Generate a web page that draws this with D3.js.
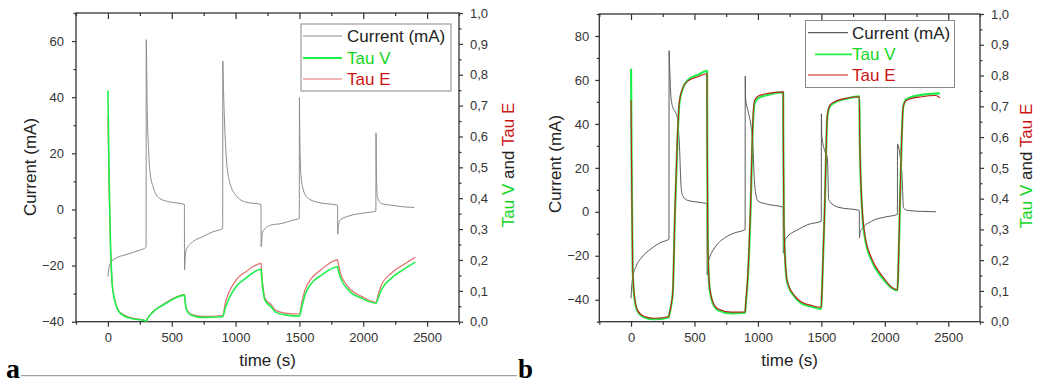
<!DOCTYPE html>
<html>
<head>
<meta charset="utf-8">
<script src="https://cdn.jsdelivr.net/npm/d3@7"></script>
<style>
  body { margin: 0; background: #fff; }
  svg text { font-family: "Liberation Sans", Arial, sans-serif; }
</style>
</head>
<body>
<div id="chart"></div>
<script>
// ---- data: [time (s), value] ----
const xTicks = [0, 500, 1000, 1500, 2000, 2500];
const tauTicks = [0, 0.1, 0.2, 0.3, 0.4, 0.5, 0.6, 0.7, 0.8, 0.9, 1.0];
const yTicksA = [-40, -20, 0, 20, 40, 60];
const yTicksB = [-40, -20, 0, 20, 40, 60, 80];
const legendLabels = ["Current (mA)", "Tau V", "Tau E"];

const currentA = [[0,-24],[8,-21],[20,-19.2],[47,-17.8],[150,-16],[250,-14.5],[299,-13.5],[300,60.5],[308,35],[318,22],
  [328,14],[354,8],[406,3.9],[484,2.7],[599,1.8],[600,-21.6],[606,-17],[612,-14.5],[651,-12.1],[742,-9.7],[820,-8],
  [899,-6.8],[900,52.9],[903,47],[912,33],[924,21],[950,10.4],[1003,5],[1081,2.6],[1199,1.8],[1200,-13.3],[1211,-8],
  [1276,-5.6],[1362,-5],[1450,-3.8],[1499,-3.2],[1500,39.9],[1503,25.8],[1513,11.6],[1531,6.9],[1570,3.9],[1648,2.5],
  [1799,1.5],[1800,-8.8],[1805,-6],[1818,-3.8],[1883,-2.4],[2000,-1.3],[2099,-0.6],[2100,27.3],[2103,14],[2111,4.5],
  [2142,2.1],[2220,1.5],[2300,1.0],[2400,0.7]];

const tauVA = [[0,0.749],[10,0.45],[20,0.254],[33,0.125],[45,0.085],[59,0.06],[98,0.027],[176,0.011],[293,0.003],[300,0.002],
  [310,0.01],[354,0.032],[432,0.054],[510,0.073],[599,0.086],[600,0.084],[612,0.043],[651,0.022],[742,0.014],[899,0.016],
  [920,0.045],[950,0.076],[1003,0.113],[1081,0.141],[1199,0.17],[1200,0.168],[1205,0.14],[1215,0.1],[1232,0.068],[1279,0.048],
  [1310,0.032],[1388,0.022],[1499,0.018],[1520,0.05],[1544,0.087],[1596,0.125],[1674,0.151],[1799,0.178],[1800,0.176],
  [1818,0.146],[1883,0.103],[1987,0.076],[2099,0.06],[2120,0.08],[2142,0.103],[2220,0.141],[2311,0.168],[2408,0.193]];

const tauEA = [[0,0.665],[10,0.42],[20,0.25],[33,0.128],[45,0.088],[59,0.062],[98,0.029],[176,0.013],[293,0.004],[300,0.003],
  [310,0.011],[354,0.033],[432,0.056],[510,0.075],[599,0.088],[600,0.086],[612,0.045],[651,0.024],[742,0.017],[899,0.02],
  [920,0.062],[950,0.097],[1003,0.135],[1081,0.162],[1199,0.189],[1200,0.187],[1205,0.155],[1215,0.112],[1232,0.074],[1279,0.055],
  [1310,0.038],[1388,0.028],[1499,0.025],[1520,0.065],[1544,0.103],[1596,0.141],[1674,0.17],[1799,0.2],[1800,0.198],
  [1818,0.162],[1883,0.112],[1987,0.082],[2099,0.063],[2120,0.092],[2142,0.119],[2220,0.157],[2311,0.184],[2408,0.209]];

const currentB = [[0,-39.4],[5,-34],[13,-30.2],[39,-24.9],[79,-21.1],[158,-16.8],[237,-13.9],[299,-12.4],[300,73.3],[303,68.2],
  [315,52],[329,47.6],[355,44.6],[368,41.5],[381,30.8],[395,11],[408,7.2],[447,5.2],[526,4.4],[599,3.7],[600,-28.7],
  [605,-24],[618,-21.1],[658,-16.5],[737,-11.9],[816,-9.6],[899,-8.1],[900,61.7],[903,51.5],[921,46.1],[947,38.5],
  [960,30.8],[974,12.5],[1000,4.9],[1079,3.4],[1199,2.1],[1200,-18.8],[1210,-14],[1224,-11.9],[1237,-11],[1316,-8.1],
  [1394,-5.8],[1499,-4.3],[1500,44.6],[1503,35],[1526,27.8],[1547,24.7],[1558,5.6],[1568,4.6],[1632,2.1],[1799,0.6],
  [1800,-11.9],[1805,-9.5],[1816,-8.1],[1895,-4.3],[2000,-2.4],[2099,-1.2],[2100,30.8],[2118,26.3],[2137,14.8],
  [2147,1.8],[2184,0.6],[2290,0.2],[2403,0]];

const tauVB = [[0,0.822],[5,0.5],[13,0.168],[26,0.081],[53,0.033],[105,0.014],[184,0.008],[295,0.014],[300,0.02],[315,0.05],
  [329,0.092],[347,0.363],[363,0.558],[381,0.71],[408,0.758],[447,0.785],[526,0.802],[599,0.815],[600,0.6],[605,0.255],
  [618,0.114],[645,0.06],[684,0.038],[789,0.027],[899,0.029],[905,0.06],[921,0.146],[942,0.363],[960,0.634],[974,0.71],
  [1000,0.726],[1079,0.737],[1199,0.745],[1200,0.6],[1205,0.309],[1224,0.146],[1237,0.12],[1290,0.081],[1342,0.06],
  [1421,0.049],[1499,0.042],[1505,0.1],[1526,0.363],[1547,0.666],[1566,0.699],[1605,0.712],[1710,0.726],[1799,0.732],
  [1803,0.58],[1821,0.363],[1842,0.276],[1895,0.2],[1974,0.146],[2099,0.102],[2105,0.15],[2118,0.363],[2132,0.58],
  [2145,0.699],[2171,0.723],[2290,0.737],[2434,0.742]];

const tauEB = [[0,0.72],[5,0.48],[13,0.17],[26,0.085],[53,0.036],[105,0.017],[184,0.011],[295,0.016],[300,0.022],[315,0.052],
  [329,0.095],[347,0.37],[363,0.57],[381,0.715],[408,0.76],[447,0.782],[526,0.796],[599,0.806],[600,0.6],[605,0.26],
  [618,0.118],[645,0.064],[684,0.042],[789,0.031],[899,0.032],[905,0.065],[921,0.155],[942,0.38],[960,0.65],[974,0.72],
  [1000,0.733],[1079,0.742],[1199,0.747],[1200,0.6],[1205,0.31],[1224,0.15],[1237,0.123],[1290,0.084],[1342,0.064],
  [1421,0.053],[1499,0.047],[1505,0.105],[1526,0.37],[1547,0.67],[1566,0.703],[1605,0.715],[1710,0.727],[1799,0.731],
  [1803,0.58],[1821,0.37],[1842,0.285],[1895,0.207],[1974,0.152],[2099,0.104],[2105,0.155],[2118,0.37],[2132,0.585],
  [2145,0.7],[2171,0.72],[2290,0.731],[2400,0.735],[2434,0.728]];

// ---- colours ----
const green = "#1ef04a", greenText = "#14d61e", redText = "#cc1414";

const svg = d3.select("#chart").append("svg")
  .attr("width", 1038).attr("height", 383)
  .style("background", "#fff");

function drawPanel(p) {
  const x = d3.scaleLinear().domain([-250, 2750]).range([p.left, p.right]);
  const y = d3.scaleLinear().domain(p.yDomain).range([p.bottom, p.top]);
  const yt = d3.scaleLinear().domain([0, 1]).range([p.bottom, p.top]);
  const g = svg.append("g");

  const minorX = d3.range(-250, 2751, 250).filter(d => d % 500 !== 0);
  const minorY = d3.range(p.yDomain[0], p.yDomain[1] + 1, 10).filter(d => d % 20 !== 0);
  const minorT = d3.range(0.05, 1, 0.1);

  function styleAxis(sel) {
    sel.select(".domain").remove();
    sel.selectAll("line").attr("stroke", "#333").attr("stroke-width", 1.2);
    sel.selectAll("text").attr("fill", "#333").style("font-size", "13px");
  }

  // bottom
  g.append("g").attr("transform", `translate(0,${p.bottom})`)
    .call(d3.axisBottom(x).tickValues(xTicks).tickSize(5).tickPadding(6).tickFormat(d3.format("d")))
    .call(styleAxis);
  g.append("g").attr("transform", `translate(0,${p.bottom})`)
    .call(d3.axisBottom(x).tickValues(minorX).tickSize(3).tickFormat("")).call(styleAxis);
  // top (ticks point inward)
  g.append("g").attr("transform", `translate(0,${p.top})`)
    .call(d3.axisBottom(x).tickValues(xTicks).tickSize(6).tickFormat("")).call(styleAxis);
  g.append("g").attr("transform", `translate(0,${p.top})`)
    .call(d3.axisBottom(x).tickValues(minorX).tickSize(3).tickFormat("")).call(styleAxis);
  // left
  g.append("g").attr("transform", `translate(${p.left},0)`)
    .call(d3.axisLeft(y).tickValues(p.yTicks).tickSize(4).tickPadding(p.leftPad)).call(styleAxis);
  g.append("g").attr("transform", `translate(${p.left},0)`)
    .call(d3.axisLeft(y).tickValues(minorY).tickSize(2.5).tickFormat("")).call(styleAxis);
  // right
  g.append("g").attr("transform", `translate(${p.right},0)`)
    .call(d3.axisRight(yt).tickValues(tauTicks).tickSize(4).tickPadding(7)
      .tickFormat(d => d3.format(".1f")(d).replace(".", ","))).call(styleAxis);
  g.append("g").attr("transform", `translate(${p.right},0)`)
    .call(d3.axisRight(yt).tickValues(minorT).tickSize(2.5).tickFormat("")).call(styleAxis);

  // frame
  g.append("rect").attr("x", p.left).attr("y", p.top)
    .attr("width", p.right - p.left).attr("height", p.bottom - p.top)
    .attr("fill", "none").attr("stroke", "#333").attr("stroke-width", 1.3);

  const lineI = d3.line().x(d => x(d[0])).y(d => y(d[1])).curve(d3.curveMonotoneX);
  const lineT = d3.line().x(d => x(d[0])).y(d => yt(d[1])).curve(d3.curveMonotoneX);

  g.append("path").datum(p.current).attr("d", lineI)
    .attr("fill", "none").attr("stroke", p.curColor).attr("stroke-width", 1);
  p.order.forEach(k => {
    const s = k === "V"
      ? { data: p.tauV, color: green, w: p.vWidth }
      : { data: p.tauE, color: p.eColor, w: p.eWidth };
    g.append("path").datum(s.data).attr("d", lineT)
      .attr("fill", "none").attr("stroke", s.color).attr("stroke-width", s.w)
      .attr("stroke-linejoin", "round");
  });

  // legend
  const L = p.legend;
  g.append("rect").attr("x", L.x).attr("y", L.y).attr("width", L.w).attr("height", L.h)
    .attr("fill", "#fff").attr("stroke", "#888").attr("stroke-width", 1);
  const legColors = [p.curColor, green, p.eColor];
  const legText = ["#222", greenText, redText];
  legendLabels.forEach((lab, i) => {
    const ry = L.rows[i];
    g.append("line").attr("x1", L.lx[i][0]).attr("x2", L.lx[i][1]).attr("y1", ry).attr("y2", ry)
      .attr("stroke", legColors[i]).attr("stroke-width", i === 1 ? 1.8 : 1.2);
    g.append("text").attr("x", L.tx).attr("y", ry + 6).text(lab)
      .attr("fill", legText[i]).style("font-size", "17px");
  });

  // axis titles
  g.append("text").attr("x", (p.left + p.right) / 2).attr("y", 366)
    .attr("text-anchor", "middle").attr("fill", "#222").style("font-size", "17px").text("time (s)");
  g.append("text").attr("transform", `translate(${p.ylx},${p.yly}) rotate(-90)`)
    .attr("text-anchor", "middle").attr("fill", "#222").style("font-size", "17px").text("Current (mA)");
  const rt = g.append("text").attr("transform", `translate(${p.rlx},${p.rly}) rotate(-90)`)
    .attr("text-anchor", "middle").style("font-size", "17px");
  rt.append("tspan").attr("fill", greenText).text("Tau V");
  rt.append("tspan").attr("fill", "#222").text(" and ");
  rt.append("tspan").attr("fill", redText).text("Tau E");
}

drawPanel({
  left: 76, right: 459, top: 13, bottom: 321.7, yDomain: [-40, 70], yTicks: yTicksA, leftPad: 8,
  current: currentA, tauV: tauVA, tauE: tauEA,
  curColor: "#8c8c8c", eColor: "#e06a6a", vWidth: 1.6, eWidth: 1.2, order: ["E", "V"],
  legend: { x: 301, y: 24, w: 150, h: 67, rows: [36, 58, 79],
            lx: [[303, 342], [303, 342], [303, 342]], tx: 347 },
  ylx: 36, yly: 167, rlx: 514, rly: 165
});

drawPanel({
  left: 599.3, right: 980, top: 14, bottom: 321.7, yDomain: [-50, 90], yTicks: yTicksB, leftPad: 6,
  current: currentB, tauV: tauVB, tauE: tauEB,
  curColor: "#5a5a5a", eColor: "#c41c1c", vWidth: 2.2, eWidth: 1.1, order: ["V", "E"],
  legend: { x: 805.5, y: 20.5, w: 149, h: 67, rows: [32.7, 54.3, 75],
            lx: [[808, 848], [815, 852], [808, 848]], tx: 852 },
  ylx: 561, yly: 164, rlx: 1032, rly: 166
});

// panel letters and separator rule
svg.append("text").attr("x", 6).attr("y", 378).text("a")
  .style("font-family", "'Liberation Serif', 'Times New Roman', serif")
  .style("font-weight", "bold").style("font-size", "28px").attr("fill", "#000");
svg.append("line").attr("x1", 21).attr("x2", 517).attr("y1", 375.7).attr("y2", 375.7)
  .attr("stroke", "#888").attr("stroke-width", 1);
svg.append("text").attr("x", 518).attr("y", 378).text("b")
  .style("font-family", "'Liberation Serif', 'Times New Roman', serif")
  .style("font-weight", "bold").style("font-size", "27px").attr("fill", "#000");
</script>
</body>
</html>
